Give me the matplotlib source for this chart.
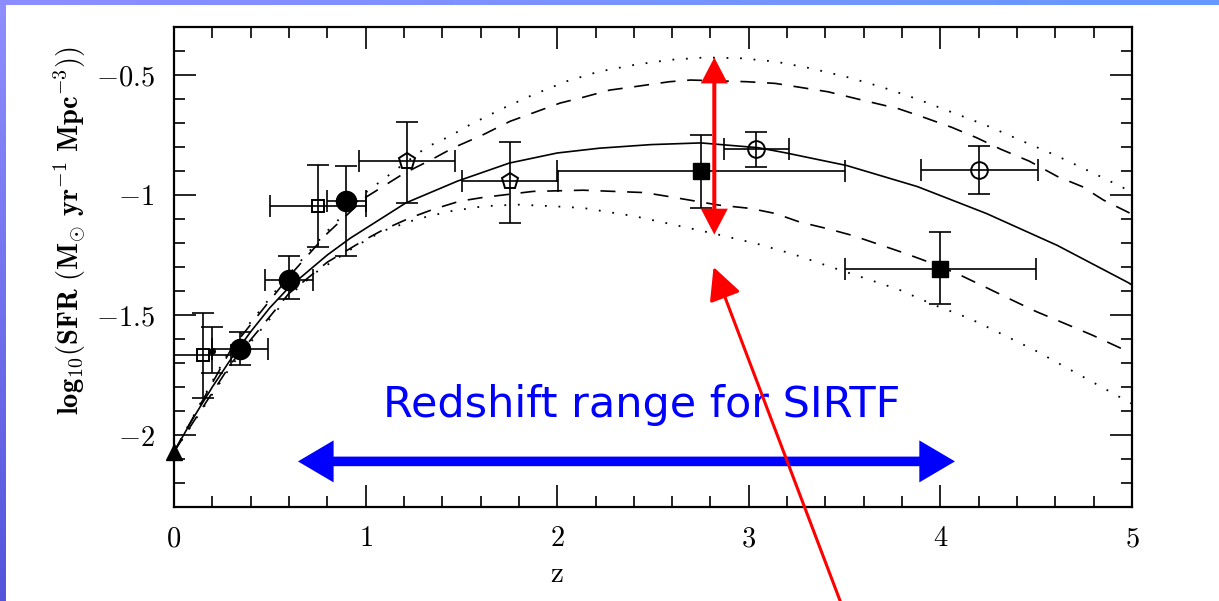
import numpy as np
import matplotlib.pyplot as plt
from matplotlib.patches import Polygon
from matplotlib.ticker import FixedLocator, FixedFormatter, MultipleLocator

plt.rcParams['mathtext.fontset'] = 'cm'
plt.rcParams['font.family'] = 'serif'
plt.rcParams['font.serif'] = ['DejaVu Serif']

# --- model curves: log10 SFR density against redshift ---
z_mid = [0.0, 0.1, 0.2, 0.3, 0.4, 0.5, 0.6, 0.8, 0.92, 1.21, 1.48, 1.75, 2.0, 2.22,
         2.49, 2.75, 3.05, 3.19, 3.51, 3.88, 4.24, 4.61, 4.98, 5.0]
sfr_mid = [-2.07, -1.93, -1.80, -1.68, -1.57, -1.47, -1.385, -1.25, -1.18, -1.033, -0.942,
           -0.867, -0.825, -0.805, -0.79, -0.783, -0.803, -0.824, -0.877, -0.965, -1.077,
           -1.21, -1.365, -1.375]

z_dash_hi = [0.0, 0.3, 0.6, 0.8, 1.0, 1.2, 1.35, 1.456, 1.613, 1.754, 1.874, 2.015, 2.135,
             2.273, 2.401, 2.586, 2.696, 2.99, 3.138, 3.249, 3.414, 3.599, 3.783, 3.912,
             4.059, 4.188, 4.317, 4.464, 4.611, 4.74, 4.851, 5.0]
sfr_dash_hi = [-2.07, -1.64, -1.34, -1.16, -1.01, -0.91, -0.85, -0.804, -0.749, -0.693,
               -0.658, -0.617, -0.593, -0.563, -0.549, -0.528, -0.521, -0.528, -0.535,
               -0.549, -0.570, -0.606, -0.641, -0.676, -0.718, -0.761, -0.81, -0.859,
               -0.923, -0.965, -1.021, -1.08]

z_dash_lo = [0.0, 0.3, 0.6, 0.8, 0.988, 1.092, 1.23, 1.352, 1.49, 1.614, 1.874, 2.135,
             2.457, 2.586, 2.843, 3.009, 3.138, 3.267, 3.414, 3.543, 3.672, 3.801, 3.948,
             4.096, 4.243, 4.372, 4.501, 4.648, 4.796, 5.0]
sfr_dash_lo = [-2.07, -1.70, -1.41, -1.28, -1.19, -1.145, -1.096, -1.06, -1.026, -1.01,
               -0.985, -0.98, -0.99, -1.007, -1.042, -1.056, -1.077, -1.113, -1.141, -1.169,
               -1.204, -1.239, -1.282, -1.331, -1.387, -1.437, -1.486, -1.535, -1.585, -1.66]

z_dot_hi = [0.0, 0.3, 0.6, 0.8, 1.0, 1.2, 1.32, 1.44, 1.545, 1.719, 1.875, 2.05, 2.217,
            2.401, 2.586, 2.77, 2.954, 3.138, 3.322, 3.506, 3.69, 3.875, 4.059, 4.243,
            4.427, 4.611, 4.796, 4.943, 5.0]
sfr_dot_hi = [-2.07, -1.63, -1.33, -1.15, -0.99, -0.87, -0.80, -0.755, -0.707, -0.638,
              -0.582, -0.526, -0.486, -0.458, -0.437, -0.427, -0.430, -0.444, -0.472,
              -0.507, -0.549, -0.599, -0.655, -0.711, -0.775, -0.838, -0.908, -0.965, -0.99]

z_dot_lo = [0.0, 0.3, 0.6, 0.745, 0.955, 1.09, 1.27, 1.44, 1.614, 1.789, 1.96, 2.135,
            2.401, 2.586, 2.825, 3.046, 3.23, 3.414, 3.599, 3.783, 3.967, 4.151, 4.335,
            4.5, 4.75, 5.0]
sfr_dot_lo = [-2.07, -1.71, -1.42, -1.32, -1.21, -1.15, -1.10, -1.068, -1.047, -1.04,
              -1.046, -1.054, -1.088, -1.12, -1.162, -1.204, -1.246, -1.296, -1.345,
              -1.394, -1.458, -1.514, -1.585, -1.65, -1.76, -1.87]

# --- measurements ---
tri_z, tri_sfr = [0.0], [-2.07]

osq_z = [0.15, 0.75]
osq_sfr = [-1.667, -1.047]
osq_xerr = [[0.15, 0.25], [0.15, 0.25]]
osq_yerr = [[0.18, 0.17], [0.175, 0.17]]

dot_z, dot_sfr = [0.2], [-1.65]
dot_yerr = [[0.09], [0.10]]

fc_z = [0.344, 0.60, 0.90]
fc_sfr = [-1.64, -1.354, -1.026]
fc_xerr = [[0.145, 0.125, 0.10], [0.145, 0.125, 0.10]]
fc_yerr = [[0.07, 0.08, 0.229], [0.07, 0.10, 0.148]]

pent_z = [1.214, 1.754]
pent_sfr = [-0.86, -0.943]
pent_xerr = [[0.25, 0.25], [0.25, 0.25]]
pent_yerr = [[0.173, 0.174], [0.163, 0.164]]

fsq_z = [2.75, 4.0]
fsq_sfr = [-0.90, -1.31]
fsq_xerr = [[0.75, 0.5], [0.75, 0.5]]
fsq_yerr = [[0.155, 0.145], [0.15, 0.155]]

oc_z = [3.04, 4.2]
oc_sfr = [-0.81, -0.897]
oc_xerr = [[0.17, 0.3], [0.17, 0.31]]
oc_yerr = [[0.072, 0.10], [0.072, 0.10]]

x_ticks = [0, 1, 2, 3, 4, 5]
x_labels = [r'$0$', r'$1$', r'$2$', r'$3$', r'$4$', r'$5$']
y_ticks = [-2.0, -1.5, -1.0, -0.5]
y_labels = [r'$-2$', r'$-1.5$', r'$-1$', r'$-0.5$']

# annotation anchors (data units)
range_lo, range_hi, range_y = 0.647, 4.076, -2.11
caption_z, caption_y = 2.443, -1.925
spread_z, spread_top, spread_bot = 2.82, -0.427, -1.165
pointer_tip = (2.816, -1.30)
pointer_tail = (3.495, -2.73)


def double_arrow(a, b, c, shaft, head_w, head_l, vertical=False):
    # outline of a two-headed arrow running from a to b along one axis at c
    pts = [(a, c), (a + head_l, c + head_w / 2), (a + head_l, c + shaft / 2),
           (b - head_l, c + shaft / 2), (b - head_l, c + head_w / 2), (b, c),
           (b - head_l, c - head_w / 2), (b - head_l, c - shaft / 2),
           (a + head_l, c - shaft / 2), (a + head_l, c - head_w / 2)]
    if vertical:
        pts = [(q, p) for p, q in pts]
    return pts


fig = plt.figure(figsize=(12.19, 6.01), dpi=100)

# slide frame: thin blue gradient strips on the left and top
bg = fig.add_axes([0, 0, 1, 1])
bg.set_axis_off()
H, W = 601, 1219
img = np.ones((H, W, 3))
t = np.linspace(0, 1, H)[:, None]
left = np.array([0.56, 0.56, 1.0]) * (1 - t) + np.array([0.33, 0.33, 0.86]) * t
img[:, :6, :] = left[:, None, :]
s = np.linspace(0, 1, W)[:, None]
top = np.array([0.55, 0.55, 1.0]) * (1 - s) + np.array([0.40, 0.60, 1.0]) * s
img[:5, :, :] = top[None, :, :]
bg.imshow(img, aspect='auto', extent=(0, 1, 0, 1), interpolation='nearest')
bg.set_xlim(0, 1)
bg.set_ylim(0, 1)

ax = fig.add_axes([174 / 1219, 94 / 601, 958 / 1219, 480 / 601])
ax.set_xlim(0, 5)
ax.set_ylim(-2.3, -0.3)

ax.plot(z_mid, sfr_mid, color='k', lw=1.2)
ax.plot(z_dash_hi, sfr_dash_hi, color='k', lw=1.2, ls=(0, (9, 7)))
ax.plot(z_dash_lo, sfr_dash_lo, color='k', lw=1.2, ls=(0, (9, 7)))
ax.plot(z_dot_hi, sfr_dot_hi, color='k', lw=1.3, ls=(0, (1, 6.5)))
ax.plot(z_dot_lo, sfr_dot_lo, color='k', lw=1.3, ls=(0, (1, 6.5)))

eb = dict(fmt='none', ecolor='k', elinewidth=1.2, capsize=8, capthick=1.2, zorder=3)
ax.errorbar(osq_z, osq_sfr, xerr=osq_xerr, yerr=osq_yerr, **eb)
ax.errorbar(dot_z, dot_sfr, yerr=dot_yerr, **eb)
ax.errorbar(fc_z, fc_sfr, xerr=fc_xerr, yerr=fc_yerr, **eb)
ax.errorbar(pent_z, pent_sfr, xerr=pent_xerr, yerr=pent_yerr, **eb)
ax.errorbar(fsq_z, fsq_sfr, xerr=fsq_xerr, yerr=fsq_yerr, **eb)
ax.errorbar(oc_z, oc_sfr, xerr=oc_xerr, yerr=oc_yerr, **eb)

ax.plot(osq_z, osq_sfr, 's', ms=9, mfc='none', mec='k', mew=1.4, zorder=4)
ax.plot(dot_z, dot_sfr, 'o', ms=4, color='k', zorder=4)
ax.plot(fc_z, fc_sfr, 'o', ms=14.5, color='k', zorder=4)
ax.plot(pent_z, pent_sfr, 'p', ms=12, mfc='none', mec='k', mew=1.4, zorder=4)
ax.plot(fsq_z, fsq_sfr, 's', ms=11, color='k', zorder=4)
ax.plot(oc_z, oc_sfr, 'o', ms=12, mfc='none', mec='k', mew=1.4, zorder=4)
ax.plot(tri_z, tri_sfr, '^', ms=12, color='k', zorder=5, clip_on=False)

ax.xaxis.set_major_locator(FixedLocator(x_ticks))
ax.xaxis.set_major_formatter(FixedFormatter(x_labels))
ax.yaxis.set_major_locator(FixedLocator(y_ticks))
ax.yaxis.set_major_formatter(FixedFormatter(y_labels))
ax.xaxis.set_minor_locator(MultipleLocator(0.2))
ax.yaxis.set_minor_locator(MultipleLocator(0.1))
ax.tick_params(which='both', direction='in', top=True, right=True, width=1.2,
               labelsize=20.5)
ax.tick_params(which='major', length=15.8)
ax.tick_params(which='minor', length=7.9)
ax.tick_params(axis='x', pad=13)
ax.tick_params(axis='y', pad=14)
for sp in ax.spines.values():
    sp.set_linewidth(1.6)

ax.set_xlabel(r'$\mathrm{z}$', fontsize=21)
ax.xaxis.set_label_coords(0.40, -0.11)
ax.set_ylabel(r'$\mathbf{log_{10}(SFR\ (M_{\odot}\ yr^{-1}\ Mpc^{-3}))}$', fontsize=20.5)
ax.yaxis.set_label_coords(-0.09, 0.575)

# blue double arrow with caption
ax.add_patch(Polygon(double_arrow(range_lo, range_hi, range_y, 0.04, 0.175, 0.186),
                     closed=True, facecolor='#0000ff', edgecolor='none', zorder=6,
                     clip_on=False))
ax.text(caption_z, caption_y, 'Redshift range for SIRTF', color='#0000ff',
        fontsize=31, family='DejaVu Sans', ha='center', va='baseline', zorder=6)

# red double arrow marking the model spread
ax.add_patch(Polygon(double_arrow(spread_bot, spread_top, spread_z, 0.021, 0.141, 0.108,
                                  vertical=True),
                     closed=True, facecolor='#ff0000', edgecolor='none', zorder=6))

ax.annotate('', xy=pointer_tip, xytext=pointer_tail, annotation_clip=False,
            arrowprops=dict(arrowstyle='-|>,head_length=1.0,head_width=0.5',
                            mutation_scale=20, color='#ff0000', lw=2.2,
                            shrinkA=0, shrinkB=0), zorder=7)

fig.savefig('out.png', dpi=100)
